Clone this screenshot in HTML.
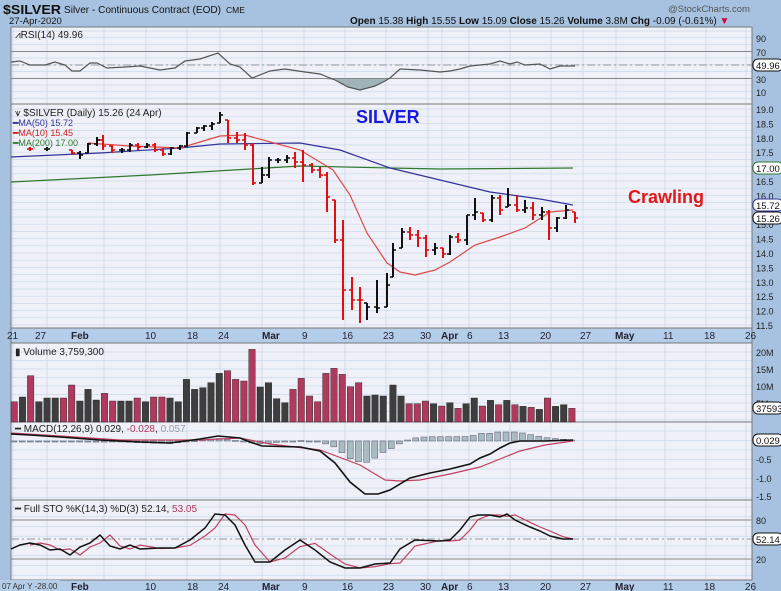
<!DOCTYPE html>
<html><head><meta charset="utf-8">
<style>
html,body{margin:0;padding:0;background:#a7c2e0;}
svg{display:block;font-family:"Liberation Sans",sans-serif;}
</style></head><body>
<svg id="c" width="781" height="591" xmlns="http://www.w3.org/2000/svg"></svg>
<script>
const S=document.getElementById('c');let h='';
function R(x,y,w,hh,f,st){h+=`<rect x="${x}" y="${y}" width="${w}" height="${hh}" fill="${f}" ${st||''}/>`;}
function L(x1,y1,x2,y2,c,w,ex){h+=`<line x1="${x1}" y1="${y1}" x2="${x2}" y2="${y2}" stroke="${c}" stroke-width="${w||1}" ${ex||''}/>`;}
function T(x,y,t,s,c,ex){h+=`<text x="${x}" y="${y}" font-size="${s}" fill="${c||'#000'}" ${ex||''}>${t}</text>`;}
function P(pts,c,w,ex){h+=`<polyline fill="none" stroke="${c}" stroke-width="${w||1}" points="${pts.map(p=>p.join(',')).join(' ')}" ${ex||''}/>`;}
const X0=11,X1=752,BG='#eff0f8',GR='#cbdaea';
R(0,0,781,591,'#a7c2e0');
const panels=[[27,104],[104,328],[343,422],[422,500],[500,580]];
panels.forEach(p=>{R(X0,p[0],X1-X0,p[1]-p[0],BG);});
R(X0,328,X1-X0,15,'#b4cde8');R(X0,580,X1-X0,11,'#b4cde8');
const dates=[[7,'21'],[35,'27'],[71,'Feb',1],[145,'10'],[187,'18'],[218,'24'],[262,'Mar',1],[302,'9'],[342,'16'],[383,'23'],[420,'30'],[441,'Apr',1],[467,'6'],[498,'13'],[540,'20'],[580,'27'],[615,'May',1],[663,'11'],[704,'18'],[745,'26']];
const vx=[13,47,104,146,187,220,262,304,345,386,428,442,469,510,551,583,616,665,706,746];
function hg(a,b,step){for(let y=a;y<b;y+=step)L(X0,y,X1,y,GR,0.7);}
hg(31,104,6.75);hg(109,328,7.2);hg(352,422,8.5);hg(431,500,9.5);hg(507,580,9.75);
panels.forEach(p=>{vx.forEach(x=>L(x,p[0],x,p[1],GR,0.8));});
panels.forEach(p=>{L(X0,p[0],X1,p[0],'#777',1);});
L(X0,328,X1,328,'#777');L(X0,343,X1,343,'#777');L(X0,580,X1,580,'#777');
L(X0,27,X0,580,'#777');L(X1,27,X1,580,'#777');
dates.forEach(d=>{T(d[0],339,d[1],10,'#223',d[2]?'font-weight="bold"':'');T(d[0],590,d[1],10,'#223',d[2]?'font-weight="bold"':'');});
// header
T(3,14,'$SILVER',13,'#111','font-weight="bold" textLength="58" lengthAdjust="spacingAndGlyphs"');
T(64,13,'Silver - Continuous Contract (EOD)',10,'#111','textLength="157" lengthAdjust="spacingAndGlyphs"');T(226,13,'CME',8.5,'#111');
T(9,24,'27-Apr-2020',9.5,'#111');
T(350,24,'<tspan font-weight="bold">Open</tspan> 15.38 <tspan font-weight="bold">High</tspan> 15.55 <tspan font-weight="bold">Low</tspan> 15.09 <tspan font-weight="bold">Close</tspan> 15.26 <tspan font-weight="bold">Volume</tspan> 3.8M <tspan font-weight="bold">Chg</tspan> -0.09 (-0.61%) <tspan fill="#c03">▼</tspan>',10,'#111');
T(668,12,'@StockCharts.com',9.5,'#555');
// RSI
const ry=v=>38+(90-v)*0.675;
L(X0,ry(70),X1,ry(70),'#888',1);L(X0,ry(30),X1,ry(30),'#888',1);
L(X0,65,X1,65,'#999',1,'stroke-dasharray="8,3,2,3"');
const rsi=[[11,62],[20,61],[30,65],[45,65],[55,62],[65,65],[72,71],[80,71],[90,63],[97,63],[107,68],[125,67],[140,66],[160,70],[175,68],[185,61],[200,59],[218,53],[230,64],[240,67],[252,78],[270,71],[285,69],[305,72],[320,74],[335,80],[348,87],[360,90],[375,86],[385,81],[390,78],[400,69],[420,70],[440,72],[450,71],[460,69],[470,66],[490,64],[500,61],[510,64],[517,62],[525,65],[540,64],[550,69],[560,66],[575,66]];
h+=`<polygon points="325,79 335,80 348,87 360,90 375,86 385,81 388,79" fill="#9fb3b8"/>`;
P(rsi,'#555',1.2);
T(15,38,'⩘RSI(14) 49.96',10,'#222');
[[90,38],[70,52],[30,79],[10,92]].forEach(a=>T(756,a[1]+4,a[0],9,'#222'));
box0(65,'49.96');
function box0(y,t){h+=`<rect x="753" y="${y-6}" width="30" height="12" rx="5" fill="#fff" stroke="#111" stroke-width="1"/>`;T(756,y+4,t,9.5,'#111');}
// Price
const py=p=>109+(19-p)*28.8;
for(let i=0;i<16;i++){const p=19-i*0.5;T(756,py(p)+4,p.toFixed(1),9,'#222');}
const ma50=[[11,157],[100,153],[180,148],[220,144],[300,143],[340,150],[390,168],[440,180],[490,192],[540,199],[573,205]];
const ma200=[[11,182],[150,175],[250,169],[300,166],[390,168],[440,169],[573,168]];
const ma10=[[88,143],[130,146],[180,148],[200,142],[220,136],[245,135],[300,150],[333,170],[350,195],[367,233],[387,263],[400,272],[415,275],[435,270],[450,262],[475,245],[500,237],[525,228],[550,212],[573,210]];
P(ma200,'#2d7a2d',1.2);P(ma50,'#33339a',1.2);P(ma10,'#e04848',1.2);
const bars=[[30,147,151,149,'r'],[47,147,151,149,'b'],[72,150,155,153,'r'],[80,151,159,155,'b'],[88,143,153,144,'b'],[97,137,146,140,'b'],[103,135,150,146,'r'],[112,145,153,150,'r'],[122,148,153,150,'b'],[130,143,152,145,'b'],[138,143,150,147,'r'],[147,143,148,145,'b'],[155,143,152,150,'r'],[163,148,156,154,'r'],[171,147,155,148,'b'],[180,145,150,146,'b'],[187,132,147,133,'b'],[197,127,133,128,'b'],[204,125,131,126,'b'],[212,122,130,124,'b'],[220,112,123,115,'b'],[228,120,143,138,'r'],[237,132,143,140,'r'],[245,133,150,145,'r'],[253,143,185,183,'r'],[262,167,183,175,'b'],[269,157,178,160,'b'],[278,158,163,160,'b'],[287,155,163,158,'b'],[295,152,168,162,'r'],[303,150,182,165,'r'],[312,163,173,170,'r'],[320,167,178,175,'r'],[327,172,212,197,'r'],[335,200,243,240,'r'],[343,220,320,290,'r'],[352,277,310,300,'r'],[360,287,323,300,'r'],[367,303,320,307,'b'],[377,280,313,308,'b'],[387,273,307,285,'b'],[393,243,277,250,'b'],[402,228,248,232,'b'],[410,227,240,235,'r'],[418,230,247,238,'r'],[426,235,257,250,'r'],[435,243,255,248,'b'],[443,248,258,254,'r'],[450,235,255,237,'b'],[458,233,243,240,'r'],[467,215,245,215,'b'],[475,198,220,212,'b'],[483,213,222,220,'r'],[492,195,222,198,'b'],[500,195,215,210,'r'],[508,188,207,205,'b'],[517,195,212,210,'r'],[525,200,213,208,'b'],[533,202,220,215,'r'],[542,207,220,212,'b'],[549,210,240,228,'r'],[557,217,232,218,'b'],[566,205,219,210,'b'],[575,212,223,218,'r']];
let pc=149;
bars.forEach(b=>{const c=b[4]=='r'?'#e01010':'#111';const o=Math.min(Math.max(pc,b[1]),b[2]);
L(b[0],b[1],b[0],b[2],c,2);L(b[0]-3,o,b[0],o,c,1.6);L(b[0],b[3],b[0]+3,b[3],c,1.6);pc=b[3];});
T(15,116,'⩛ $SILVER (Daily) 15.26 (24 Apr)',10,'#222');
T(13,126,'<tspan font-weight="bold">━</tspan>MA(50) 15.72',9,'#33339a');
T(13,136,'<tspan font-weight="bold">━</tspan>MA(10) 15.45',9,'#d02020');
T(13,146,'<tspan font-weight="bold">━</tspan>MA(200) 17.00',9,'#2d7a2d');
T(356,123,'SILVER',18,'#1a1adc','font-weight="bold"');
T(628,203,'Crawling',18,'#e01818','font-weight="bold"');
function box(y,t,c){h+=`<rect x="753" y="${y-6}" width="30" height="12" rx="5" fill="#fff" stroke="${c}" stroke-width="1"/>`;T(756,y+4,t,9.5,'#111');}
box(168,'17.00','#2d7a2d');box(205,'15.72','#33339a');box(218,'15.26','#111');
// Volume
const vt=[245,231,167,245,234,234,234,195,243,208,240,220,243,243,243,234,245,231,231,234,245,178,208,203,188,160,152,178,183,88,201,188,236,248,208,175,228,245,160,145,163,200,188,228,225,228];
const vc='rbrbbbrrbbbrrbbrbrrbbbbbbbrrrrbbbbrrrrrrrrrbbb';
const vt2=[195,228,251,251,243,251,258,248,265,251,234,258,241,254,241,254,259,262,268,234,259,254,265];
const vc2='bbrrrbrbrbbrbrbrbrbrbbr';
vt.forEach((t,i)=>{const x=11+i*8.2;R(x,320+t/3,6.5,422-(320+t/3),vc[i]=='r'?'#b03a5e':'#3e3e3e','stroke="#222" stroke-width="0.4"');});
vt2.forEach((t,i)=>{const x=390+(8+i*24.4)/3-3;R(x,320+t/3,6.5,422-(320+t/3),vc2[i]=='r'?'#b03a5e':'#3e3e3e','stroke="#222" stroke-width="0.4"');});
T(15,355,'▮ Volume 3,759,300',10,'#222');
[['20M',352],['15M',369],['10M',386],['5M',403]].forEach(a=>T(756,a[1]+4,a[0],9,'#222'));
box(408,'37593','#111');
// MACD
const macd=[[11,434],[30,435],[60,437],[100,440],[140,442],[170,443],[200,439],[218,436],[240,438],[250,442],[262,446],[300,447],[320,451],[335,463],[350,482],[365,494],[378,494],[390,490],[410,478],[430,473],[450,469],[470,464],[480,458],[490,454],[500,448],[510,443],[520,441],[545,441],[573,440]];
const sig=[[11,433],[60,436],[120,440],[200,440],[240,438],[270,444],[320,450],[360,465],[385,480],[400,481],[420,480],[450,474],[480,467],[500,459],[520,451],[545,445],[573,441]];
function interp(a,x){for(let i=1;i<a.length;i++){if(x<=a[i][0]){const p=a[i-1],q=a[i];return p[1]+(q[1]-p[1])*(x-p[0])/(q[0]-p[0]);}}return a[a.length-1][1];}
for(let i=0;i<69;i++){const x=14+i*8.2;let d=(interp(macd,x)-interp(sig,x))*0.85;d=Math.max(-9,Math.min(22,d));const y0=441;
R(x-3,d>0?y0:y0+d,6,Math.max(1,Math.abs(d)),'#a9bcc2','stroke="#556" stroke-width="0.5"');}
P(sig,'#c04060',1.2);P(macd,'#111',1.6);
T(15,432,'━ MACD(12,26,9) 0.029, <tspan fill="#b03a5e">-0.028</tspan>, <tspan fill="#99a">0.057</tspan>',10,'#222');
[['-0.5',459],['-1.0',478],['-1.5',496]].forEach(a=>T(756,a[1]+4,a[0],9,'#222'));
box(440,'0.029','#111');
// STO
L(X0,520,X1,520,'#888');L(X0,559,X1,559,'#888');L(X0,539,X1,539,'#999',1,'stroke-dasharray="8,3,2,3"');
const K=[[11,549],[20,545],[30,543],[40,545],[50,550],[60,549],[70,555],[80,547],[90,543],[100,535],[110,546],[120,549],[130,545],[140,549],[160,548],[175,548],[190,540],[205,528],[215,514],[225,515],[235,525],[245,545],[255,562],[270,562],[285,550],[300,540],[315,550],[330,562],[345,568],[360,568],[375,564],[390,563],[400,549],[415,540],[440,541],[450,540],[460,530],[470,517],[478,515],[490,515],[500,517],[507,514],[515,520],[530,527],[540,531],[550,536],[563,539],[573,539]];
const D=K.map(p=>[p[0],interp(K,p[0]-10)]).filter(p=>p[0]>20);
P(D,'#c04060',1.2);P(K,'#111',1.5);
T(15,512,'━ Full STO %K(14,3) %D(3) 52.14, <tspan fill="#b03a5e">53.05</tspan>',10,'#222');
[['80',520],['20',559]].forEach(a=>T(756,a[1]+4,a[0],9,'#222'));
box(539,'52.14','#111');
R(0,580,60,11,'#b4cde8');T(2,589,'07 Apr Y -28.00',8,'#333');
S.innerHTML=h;
</script>
</body></html>
